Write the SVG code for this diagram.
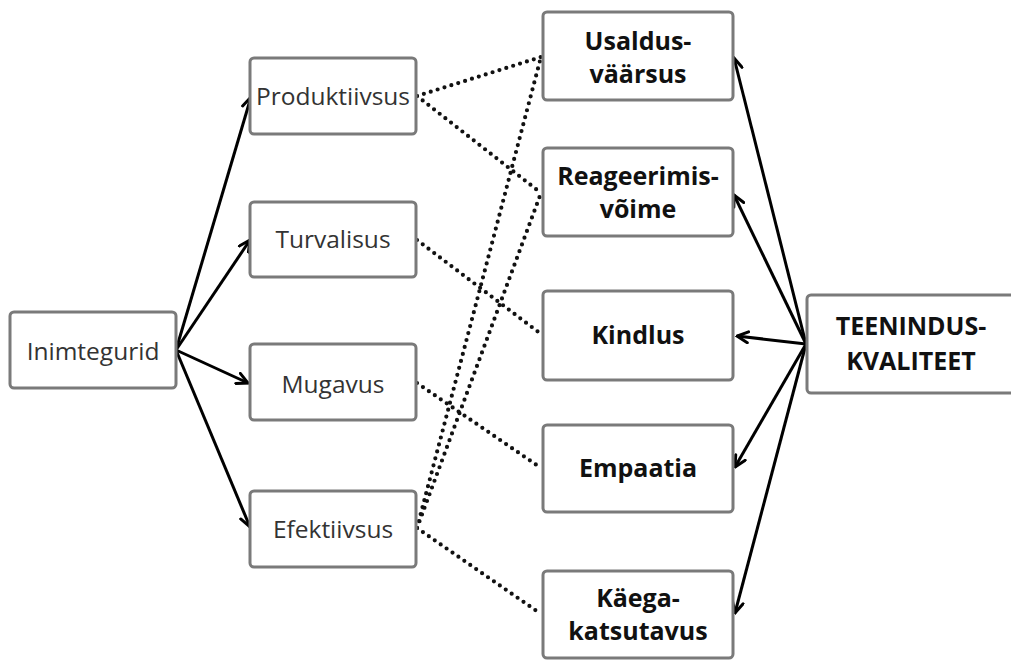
<svg xmlns="http://www.w3.org/2000/svg" width="1011" height="660" viewBox="0 0 1011 660">
<style>
.box{fill:#fff;stroke:#7a7a7a;stroke-width:3}
.reg{font-family:"Open Sans","DejaVu Sans",sans-serif;font-size:24.5px;fill:#333;text-anchor:middle}
.bold{font-family:"Open Sans","DejaVu Sans",sans-serif;font-size:25px;font-weight:bold;fill:#111;text-anchor:middle}
.arr{stroke:#000;stroke-width:3;fill:none;marker-end:url(#ah)}
.dot{stroke:#111;stroke-width:4.2;fill:none;stroke-dasharray:0 7.2;stroke-linecap:round}
</style>
<defs>
<marker id="ah" markerUnits="userSpaceOnUse" viewBox="0 0 14 14" markerWidth="14" markerHeight="14" refX="12.5" refY="7" orient="auto">
<path d="M1.5,1.5 L12.5,7 L1.5,12.5" fill="none" stroke="#000" stroke-width="3" stroke-linecap="round" stroke-linejoin="miter"/>
</marker>
</defs>
<rect width="1011" height="660" fill="#fff"/>
<g id="connectors">
<line class="arr" x1="176" y1="350" x2="251" y2="97"/>
<line class="arr" x1="176" y1="350" x2="250" y2="240"/>
<line class="arr" x1="176" y1="350" x2="248" y2="383"/>
<line class="arr" x1="176" y1="350" x2="250" y2="527"/>
<line class="arr" x1="806" y1="344" x2="734" y2="58"/>
<line class="arr" x1="806" y1="344" x2="734" y2="195"/>
<line class="arr" x1="806" y1="344" x2="737" y2="336"/>
<line class="arr" x1="806" y1="344" x2="735" y2="467"/>
<line class="arr" x1="806" y1="344" x2="735" y2="613"/>
<line class="dot" x1="417" y1="96" x2="541" y2="57"/>
<line class="dot" x1="417" y1="96" x2="541" y2="193"/>
<line class="dot" x1="417" y1="240" x2="541" y2="334"/>
<line class="dot" x1="417" y1="383" x2="541" y2="468"/>
<line class="dot" x1="417" y1="528" x2="541" y2="57"/>
<line class="dot" x1="417" y1="528" x2="541" y2="193"/>
<line class="dot" x1="417" y1="528" x2="541" y2="614"/>
</g>
<g id="inimtegurid"><rect class="box" x="10" y="312" width="166" height="76" rx="4"/><text class="reg" x="93" y="360">Inimtegurid</text></g>
<g id="produktiivsus"><rect class="box" x="250" y="58" width="166" height="76" rx="4"/><text class="reg" x="333" y="105">Produktiivsus</text></g>
<g id="turvalisus"><rect class="box" x="250" y="202" width="166" height="75" rx="4"/><text class="reg" x="333" y="248">Turvalisus</text></g>
<g id="mugavus"><rect class="box" x="250" y="344" width="166" height="76" rx="4"/><text class="reg" x="333" y="393">Mugavus</text></g>
<g id="efektiivsus"><rect class="box" x="250" y="491" width="166" height="76" rx="4"/><text class="reg" x="333" y="538">Efektiivsus</text></g>
<g id="usaldusvaarsus"><rect class="box" x="543" y="12" width="190" height="88" rx="4"/><text class="bold" x="638" y="50">Usaldus-</text><text class="bold" x="638" y="83">väärsus</text></g>
<g id="reageerimisvoime"><rect class="box" x="543" y="148" width="190" height="88" rx="4"/><text class="bold" x="638" y="185">Reageerimis-</text><text class="bold" x="638" y="218">võime</text></g>
<g id="kindlus"><rect class="box" x="543" y="291" width="190" height="89" rx="4"/><text class="bold" x="638" y="344">Kindlus</text></g>
<g id="empaatia"><rect class="box" x="543" y="425" width="190" height="87" rx="4"/><text class="bold" x="638" y="477">Empaatia</text></g>
<g id="kaegakatsutavus"><rect class="box" x="543" y="571" width="190" height="87" rx="4"/><text class="bold" x="638" y="607">Käega-</text><text class="bold" x="638" y="640">katsutavus</text></g>
<g id="teeninduskvaliteet"><rect class="box" x="807" y="295" width="215" height="98" rx="4"/><text class="bold" x="911" y="335">TEENINDUS-</text><text class="bold" x="911" y="370">KVALITEET</text></g>
</svg>
